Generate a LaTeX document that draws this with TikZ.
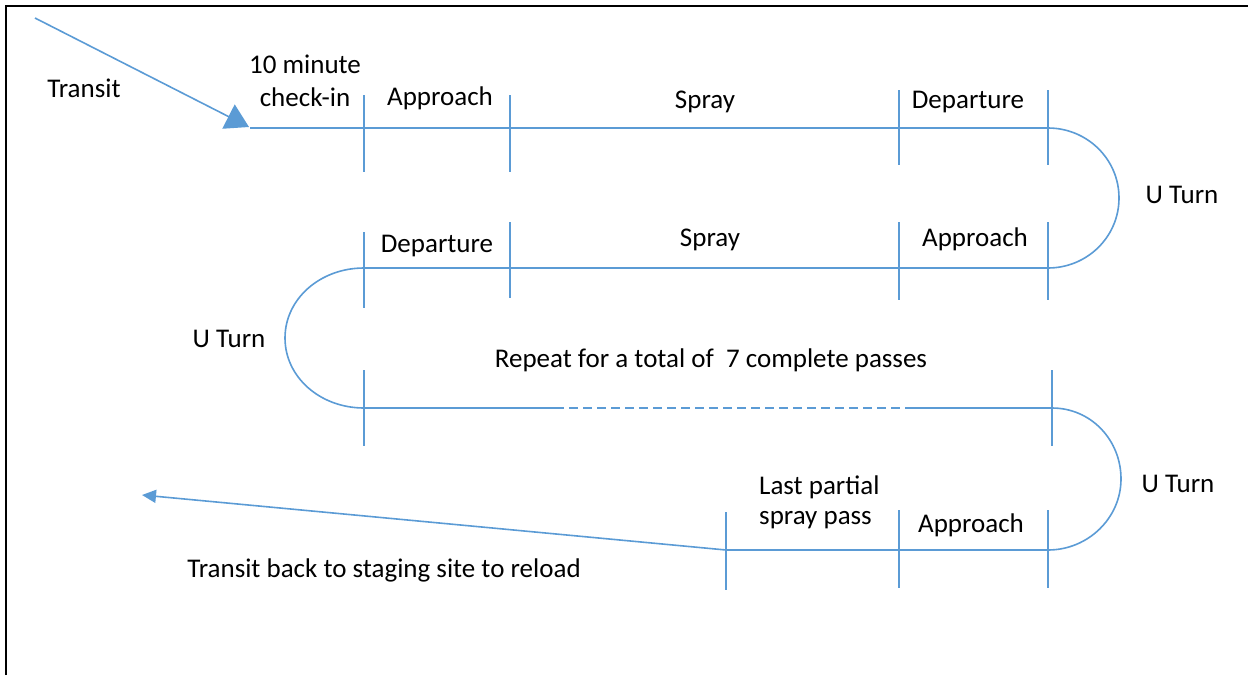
\documentclass[tikz,border=0pt]{standalone}
\usepackage{fontspec}
\setmainfont{Carlito}
\usetikzlibrary{arrows.meta}
\definecolor{flowblue}{RGB}{91,155,213}
\begin{document}
\begin{tikzpicture}[x=1pt,y=-1pt,
  flow/.style={draw=flowblue,line width=1.6pt},
  tickline/.style={draw=flowblue,line width=1.4pt},
  lbl/.style={font=\fontsize{27}{33}\selectfont,text=black,inner sep=0pt,anchor=base},
  lbll/.style={lbl,anchor=base west},
]
\useasboundingbox (0,0) rectangle (1248,675);
\draw[black,line width=2pt] (6,675) -- (6,6) -- (1248,6);

% path points
\coordinate (tstart) at (35,18);
\coordinate (tend) at (249,127);
\coordinate (r1a) at (1048,128);
\coordinate (r1b) at (1048,268);
\coordinate (l1a) at (364,268);
\coordinate (l1b) at (364,408);
\coordinate (d1) at (555,408);
\coordinate (d2) at (905,408);
\coordinate (r2a) at (1052,408);
\coordinate (r2b) at (1048,550);
\coordinate (lastp) at (726,550);
\coordinate (home) at (142,495);

% incoming transit
\draw[flow,-{Triangle[length=23pt,width=27pt]}] (tstart) -- (tend);
% pass 1
\draw[flow] (250,128) -- (r1a);
% U turn right 1
\draw[flow] (r1a) .. controls (1087,128) and (1119,159) .. (1119,198)
            .. controls (1119,237) and (1087,268) .. (r1b);
% pass 2
\draw[flow] (r1b) -- (l1a);
% U turn left
\draw[flow] (l1a) .. controls (320,268) and (285,299) .. (285,338)
            .. controls (285,377) and (320,408) .. (l1b);
% pass 3 (repeat)
\draw[flow] (l1b) -- (d1);
\draw[flow,dash pattern=on 9pt off 5pt] (d1) -- (d2);
\draw[flow] (d2) -- (r2a);
% U turn right 2
\draw[flow] (r2a) .. controls (1091,408) and (1121,440) .. (1121,479)
            .. controls (1121,518) and (1088,550) .. (r2b);
% last partial pass
\draw[flow] (r2b) -- (lastp);
% transit back
\draw[flow,-{Triangle[length=14pt,width=13pt]}] (lastp) -- (home);

% ticks row 1
\draw[tickline] (364,95) -- (364,172);
\draw[tickline] (510,95) -- (510,172);
\draw[tickline] (899,90) -- (899,165);
\draw[tickline] (1048,90) -- (1048,165);
% ticks row 2
\draw[tickline] (364,232) -- (364,308);
\draw[tickline] (510,222) -- (510,298);
\draw[tickline] (899,222) -- (899,300);
\draw[tickline] (1048,222) -- (1048,300);
% ticks row 3
\draw[tickline] (364,370) -- (364,446);
\draw[tickline] (1052,370) -- (1052,446);
% ticks row 4
\draw[tickline] (726,512) -- (726,590);
\draw[tickline] (899,510) -- (899,588);
\draw[tickline] (1048,510) -- (1048,588);

% labels
\node[lbl] (transit) at (84,97) {Transit};
\node[lbl] (tenmin) at (305,73) {10 minute};
\node[lbl] (checkin) at (305,106) {check-in};
\node[lbl] (app1) at (440,105) {Approach};
\node[lbl] (spr1) at (705,108) {Spray};
\node[lbl] (dep1) at (968,108) {Departure};
\node[lbl] (ut1) at (1182,203) {U Turn};
\node[lbl] (dep2) at (437,252) {Departure};
\node[lbl] (spr2) at (710,246) {Spray};
\node[lbl] (app2) at (975,246) {Approach};
\node[lbl] (ut2) at (229,347) {U Turn};
\node[lbl] (rep) at (711,367) {Repeat for a total of \ 7 complete passes};
\node[lbl] (ut3) at (1178,492) {U Turn};
\node[lbll] (last1) at (759,494) {Last partial};
\node[lbll] (last2) at (759,524) {spray pass};
\node[lbl] (app3) at (971,532) {Approach};
\node[lbl] (back) at (384,577) {Transit back to staging site to reload};
\end{tikzpicture}
\end{document}
